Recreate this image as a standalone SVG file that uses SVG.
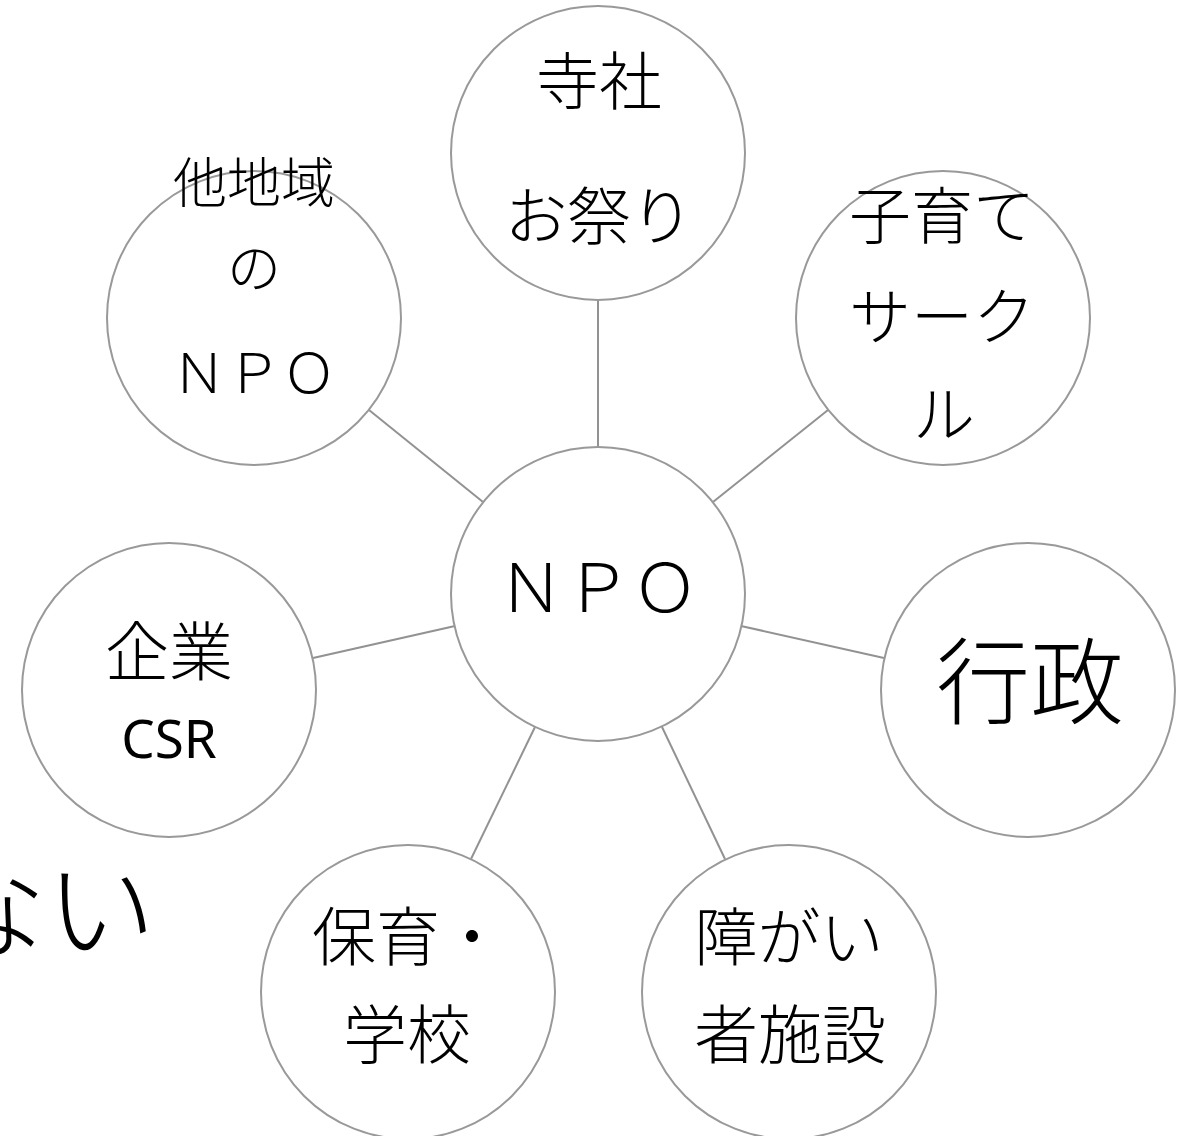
<svg xmlns="http://www.w3.org/2000/svg" width="1181" height="1136" viewBox="0 0 1181 1136">
<style>
.node circle{fill:#fff;stroke:#999;stroke-width:2}
.conn line{stroke:#929292;stroke-width:2}
text{font-family:"Noto Sans CJK JP","Noto Sans",sans-serif;font-weight:300;fill:#000;text-anchor:middle}
.lat{font-family:"Noto Sans","Noto Sans CJK JP",sans-serif;font-weight:400}
</style>
<rect width="1181" height="1136" fill="#fff"/>
<text x="-64" y="950" font-size="110" style="text-anchor:start">ない</text>
<g class="conn">
<line x1="598" y1="300" x2="598" y2="447"/>
<line x1="369" y1="410" x2="483" y2="502"/>
<line x1="828" y1="410" x2="713" y2="502"/>
<line x1="313" y1="658" x2="455" y2="626"/>
<line x1="884" y1="658" x2="741" y2="626"/>
<line x1="471" y1="859" x2="535" y2="727"/>
<line x1="725" y1="859" x2="662" y2="727"/>
</g>
<g id="node-jisha" class="node">
<circle cx="598" cy="153" r="147"/>
<text x="599" y="104" font-size="63">寺社</text>
<text x="599" y="239" font-size="63">お祭り</text>
</g>
<g id="node-tachiiki" class="node">
<circle cx="254" cy="318" r="147"/>
<text x="254" y="203" font-size="54">他地域</text>
<text x="254" y="288" font-size="54">の</text>
<text x="254" y="393" font-size="55">ＮＰＯ</text>
</g>
<g id="node-kosodate" class="node">
<circle cx="943" cy="318" r="147"/>
<text x="942" y="239" font-size="62">子育て</text>
<text x="942" y="340" font-size="62">サーク</text>
<text x="944" y="438" font-size="62">ル</text>
</g>
<g id="node-npo" class="node">
<circle cx="598" cy="594" r="147"/>
<text x="598" y="612" font-size="67">ＮＰＯ</text>
</g>
<g id="node-kigyo" class="node">
<circle cx="169" cy="690" r="147"/>
<text x="169" y="675" font-size="64">企業</text>
<text class="lat" x="169" y="758" font-size="53">CSR</text>
</g>
<g id="node-gyosei" class="node">
<circle cx="1028" cy="690" r="147"/>
<text x="1030" y="717" font-size="94">行政</text>
</g>
<g id="node-hoiku" class="node">
<circle cx="408" cy="992" r="147"/>
<text x="408" y="960" font-size="64">保育・</text>
<text x="407" y="1058" font-size="64">学校</text>
</g>
<g id="node-shogai" class="node">
<circle cx="789" cy="992" r="147"/>
<text x="789" y="960" font-size="63">障がい</text>
<text x="790" y="1058" font-size="64">者施設</text>
</g>
</svg>
